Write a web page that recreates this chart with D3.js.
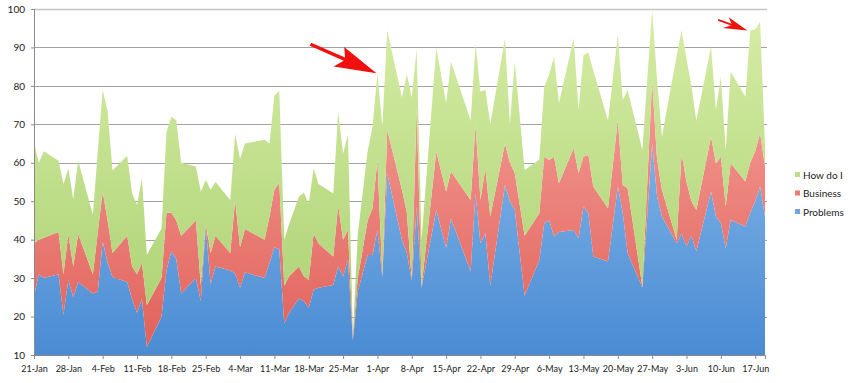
<!DOCTYPE html>
<html>
<head>
<meta charset="utf-8">
<script src="https://cdn.jsdelivr.net/npm/d3@7"></script>
<style>
  body { margin: 0; background: #fff; }
  svg { display: block; font-family: Lato, "Open Sans", sans-serif; }
</style>
</head>
<body>
<svg width="848" height="383"></svg>
<script>
// dates that carry a data point (the line is straight between them)
var dates = ["21-Jan","22-Jan","23-Jan","26-Jan","27-Jan","28-Jan","29-Jan","30-Jan",
  "2-Feb","3-Feb","4-Feb","5-Feb","6-Feb","9-Feb","10-Feb","11-Feb","12-Feb","13-Feb",
  "16-Feb","17-Feb","18-Feb","19-Feb","20-Feb","23-Feb","24-Feb","25-Feb","26-Feb","27-Feb",
  "2-Mar","3-Mar","4-Mar","5-Mar","9-Mar","10-Mar","11-Mar","12-Mar","13-Mar","14-Mar",
  "16-Mar","17-Mar","18-Mar","19-Mar","20-Mar","23-Mar","24-Mar","25-Mar","26-Mar","27-Mar",
  "28-Mar","30-Mar","31-Mar","1-Apr","2-Apr","3-Apr","6-Apr","7-Apr","8-Apr","9-Apr","10-Apr",
  "13-Apr","15-Apr","16-Apr","20-Apr","21-Apr","22-Apr","23-Apr","24-Apr","27-Apr","28-Apr",
  "29-Apr","1-May","4-May","5-May","6-May","7-May","8-May","11-May","12-May","13-May",
  "14-May","15-May","18-May","20-May","21-May","22-May","25-May","27-May","28-May","29-May",
  "1-Jun","2-Jun","3-Jun","4-Jun","5-Jun","8-Jun","9-Jun","10-Jun","11-Jun","12-Jun",
  "15-Jun","16-Jun","17-Jun","18-Jun","19-Jun"];

var problems = [25.5,31,30,31,20.5,29.5,25,29,
  26,26.5,39.5,34,30.3,29,24.5,21,24.5,12,
  20,32,37,35,26,30,24,43.5,28.5,33,
  32,31.2,27.5,31.5,30,34,38,37.5,18.2,21,
  24.7,24,22.3,27,27.5,28.2,33,30.4,34.7,13.8,
  26.5,36,36,42.5,30.3,57.3,40,36.5,29.3,48.5,27.5,
  47.7,37.8,45.5,31.7,52,39,41.7,28,54.2,50,
  47.7,25.5,34.7,44.3,45,40.8,42,42.5,40.4,48.6,
  46.9,35.6,34.3,53.8,47,36.5,27.5,65,51.2,46,
  39,41.7,38.2,41,37,52.5,46,44.3,37.8,45.1,
  43.4,47,50,53.8,46];

var business = [13.5,9,10.5,11,10.5,12,8,12.5,
  5,15.5,13,11,6.2,12,8.5,10,9.5,11,
  10,15,10,10,15,15,4,0.8,8,8,
  4.5,19.1,10.5,11.3,10,12,15,17.3,9.8,9.5,
  8.3,6.5,7.2,14.7,11.5,7.4,16,9.6,7.8,0.7,
  3.5,9,12.2,18.2,0.1,11.2,13,10.5,0.2,26.1,0.3,
  15.3,14.7,12.2,18.6,17.8,11.3,16.9,18,10.8,10,
  9.6,15.5,12.2,17.3,15.7,20.8,12.7,21.3,16.9,13,
  15.1,18.2,13.9,17.3,7.2,16.9,0.3,16.6,9.5,6.9,
  1,20.8,16.8,9,10.7,14.3,13.9,17.3,10.8,14.8,
  11.7,13,13,13.9,13];

var howDoI = [26,20,22.5,18.5,23.5,17,17.5,19,
  15.5,21,26.5,28.5,21.5,20.8,19,18,22,13,
  13,21,25,26,19,14,24.5,11.2,16.5,14,
  13.8,17.2,23,22.2,26,19,24.5,23.9,12,13.5,
  18.2,21.7,20,16.8,15.5,16.4,24.2,22.4,24.7,0.3,
  11.5,18,21.2,22.6,39,26,24,36,47.5,14.9,12.2,
  27,23,28.6,20.7,21.2,28.2,20.4,24,27.4,10,
  29,17.1,13.9,18.2,22.3,26,20.8,28.6,16.4,26.4,
  26.7,30.2,22.8,22.2,22.1,25.6,35.5,18.4,20.8,13.9,
  48,31.9,32,30,23.3,23.4,13.8,20.8,14.7,23.8,
  22.1,34.4,31.7,29,5];

var seriesNames = ["Problems", "Business", "How do I"];
var tickLabels = ["21-Jan","28-Jan","4-Feb","11-Feb","18-Feb","25-Feb","4-Mar","11-Mar",
  "18-Mar","25-Mar","1-Apr","8-Apr","15-Apr","22-Apr","29-Apr","6-May","13-May",
  "20-May","27-May","3-Jun","10-Jun","17-Jun"];
var yTicks = [10,20,30,40,50,60,70,80,90,100];

// arrow annotations: tip point, then shape (length, head length, head half width, angle)
var arrowTips = [
  {date: "1-Apr", value: 83.3, shift: -1, len: 72, head: 40, half: 11, angle: 23.7},
  {date: "16-Jun", value: 94.4, shift: -3, len: 31, head: 22, half: 6, angle: 20}
];

var parse = function(s) { return d3.utcParse("%d-%b-%Y")(s + "-2011"); };

var plotLeft = 34, plotRight = 765, plotTop = 9, plotBottom = 355;

var svg = d3.select("svg");

var data = dates.map(function(d, i) {
  return {date: parse(d), "Problems": problems[i], "Business": business[i], "How do I": howDoI[i]};
});

var x = d3.scaleUtc()
    .domain([parse("21-Jan"), parse("19-Jun")])
    .range([plotLeft, plotRight]);

var y = d3.scaleLinear()
    .domain([10, 100])
    .range([plotBottom, plotTop]);

var colors = {
  "Problems": ["#9cc9f3", "#4a8bd3"],
  "Business": ["#f9aca4", "#e0605a"],
  "How do I": ["#d6eda6", "#a9cf6f"]
};
var legendColors = {"Problems": "#6fa6e2", "Business": "#ea7b75", "How do I": "#bcdc88"};

var defs = svg.append("defs");
seriesNames.forEach(function(name, i) {
  var g = defs.append("linearGradient")
      .attr("id", "grad" + i)
      .attr("gradientUnits", "userSpaceOnUse")
      .attr("x1", 0).attr("x2", 0)
      .attr("y1", plotTop).attr("y2", plotBottom);
  g.append("stop").attr("offset", "0%").attr("stop-color", colors[name][0]);
  g.append("stop").attr("offset", "100%").attr("stop-color", colors[name][1]);
});
defs.append("clipPath").attr("id", "plot")
  .append("rect").attr("x", plotLeft).attr("y", plotTop - 1)
  .attr("width", plotRight - plotLeft + 2).attr("height", plotBottom - plotTop + 1);

// gridlines
svg.append("g")
  .selectAll("line")
  .data(yTicks.slice(1))
  .enter().append("line")
    .attr("x1", plotLeft).attr("x2", plotRight + 2)
    .attr("y1", function(d) { return Math.round(y(d)) + 0.5; })
    .attr("y2", function(d) { return Math.round(y(d)) + 0.5; })
    .attr("stroke", function(d) { return d === 100 ? "#c4c4c4" : "#a3a3a3"; })
    .attr("stroke-width", function(d) { return d === 100 ? 1.5 : 1; });

// stacked areas
var stack = d3.stack().keys(seriesNames);
var layers = stack(data);

var area = d3.area()
    .x(function(d) { return x(d.data.date); })
    .y0(function(d) { return y(d[0]); })
    .y1(function(d) { return y(d[1]); });

svg.append("g")
    .attr("clip-path", "url(#plot)")
  .selectAll("path")
  .data(layers)
  .enter().append("path")
    .attr("d", area)
    .attr("fill", function(d, i) { return "url(#grad" + i + ")"; });

// y axis
var yAxis = svg.append("g")
    .attr("transform", "translate(" + plotLeft + ",0)")
    .call(d3.axisLeft(y).tickValues(yTicks).tickSize(3).tickPadding(6));
yAxis.select(".domain").attr("stroke", "#8a8a8a");
yAxis.selectAll(".tick line").attr("stroke", "#8a8a8a");
yAxis.selectAll("text").attr("font-size", 10).attr("fill", "#222").attr("font-family", "Lato");

// x axis
var xAxis = svg.append("g")
    .attr("transform", "translate(0," + plotBottom + ")")
    .call(d3.axisBottom(x)
      .tickValues(tickLabels.map(parse))
      .tickFormat(function(d) { return d3.utcFormat("%-d-%b")(d); })
      .tickSize(4).tickPadding(7));
xAxis.select(".domain").attr("stroke", "#8a8a8a");
xAxis.selectAll(".tick line").attr("stroke", "#8a8a8a");
xAxis.selectAll("text").attr("font-size", 9).attr("fill", "#222").attr("font-family", "Lato");

// legend
var legend = svg.append("g").attr("transform", "translate(795,175)");
var legendOrder = seriesNames.slice().reverse();
legend.selectAll("rect")
  .data(legendOrder)
  .enter().append("rect")
    .attr("x", 0)
    .attr("y", function(d, i) { return i * 18.5 - 3; })
    .attr("width", 5).attr("height", 5)
    .attr("fill", function(d) { return legendColors[d]; });
legend.selectAll("text")
  .data(legendOrder)
  .enter().append("text")
    .attr("x", 8)
    .attr("y", function(d, i) { return i * 18.5; })
    .attr("dy", "0.35em")
    .attr("font-size", 10)
    .attr("fill", "#222")
    .text(function(d) { return d; });

// red arrows
function arrowPath(a) {
  var neck = a.head - 5, shaft = a.half * 0.15;
  return "M0,0 L" + (-a.head) + "," + (-a.half) + " L" + (-neck) + "," + (-shaft) +
    " L" + (-a.len) + "," + (-shaft) + " L" + (-a.len) + "," + shaft +
    " L" + (-neck) + "," + shaft + " L" + (-a.head - 2) + "," + a.half + " Z";
}
svg.append("g")
  .selectAll("path")
  .data(arrowTips)
  .enter().append("path")
    .attr("d", arrowPath)
    .attr("fill", "#f01010")
    .attr("transform", function(d) {
      return "translate(" + (x(parse(d.date)) + d.shift) + "," + y(d.value) + ") rotate(" + d.angle + ")";
    });
</script>
</body>
</html>
